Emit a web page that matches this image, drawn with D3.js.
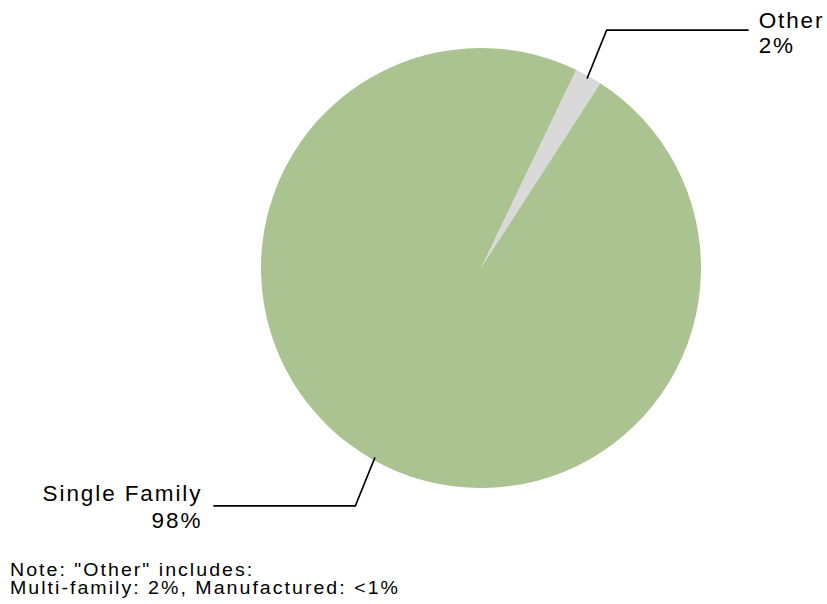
<!DOCTYPE html>
<html>
<head>
<meta charset="utf-8">
<script src="https://cdn.jsdelivr.net/npm/d3@7"></script>
<style>
  html, body { margin: 0; padding: 0; background: #ffffff; }
  svg { display: block; }
  text { font-family: "Liberation Sans", Arial, sans-serif; fill: #000; }
</style>
</head>
<body>
<svg id="chart" width="827" height="604"></svg>
<script>
// Housing type shares (percent)
const categories = ["Other", "Single Family"];
const values = [2, 98];
const valueLabels = ["2%", "98%"];
const colors = ["#d9d9d9", "#abc291"];
const noteLines = ["Note: \"Other\" includes:", "Multi-family: 2%, Manufactured: <1%"];

const width = 827, height = 604;
const cx = 481, cy = 268, radius = 220;
const deg = Math.PI / 180;

const svg = d3.select("#chart");
const g = svg.append("g").attr("transform", `translate(${cx},${cy})`);

// The small slice is centred at about 29 degrees clockwise from 12 o'clock
const otherMid = 29.25 * deg;
const otherSpan = values[0] / d3.sum(values) * 2 * Math.PI;
const start = otherMid - otherSpan / 2;

const pie = d3.pie().sort(null).value(d => d.value)
  .startAngle(start).endAngle(start + 2 * Math.PI);

const data = categories.map((c, i) => ({ name: c, value: values[i], label: valueLabels[i], color: colors[i] }));
const arcs = pie(data);

const arc = d3.arc().innerRadius(0).outerRadius(radius);

g.selectAll("path.slice")
  .data(arcs)
  .join("path")
  .attr("class", "slice")
  .attr("d", arc)
  .attr("fill", d => d.data.color);

// Point at distance r from the centre, angle a clockwise from 12 o'clock
const polar = (r, a) => [r * Math.sin(a), -r * Math.cos(a)];

// Leader lines and labels
const hLen = 142;
arcs.forEach(a => {
  const mid = (a.startAngle + a.endAngle) / 2;
  const right = Math.sin(mid) > 0;
  const p0 = polar(217, mid);
  const p1 = polar(269, mid - 1.4 * deg);
  const p2 = [p1[0] + (right ? hLen : -hLen), p1[1]];
  g.append("polyline")
    .attr("points", [p0, p1, p2].map(p => p.join(",")).join(" "))
    .attr("fill", "none")
    .attr("stroke", "#000")
    .attr("stroke-width", 1.6);

  const tx = right ? p2[0] + 10 : p2[0] - 11;
  const anchor = right ? "start" : "end";
  const t = g.append("text")
    .attr("text-anchor", anchor)
    .attr("font-size", 22.5)
    .attr("letter-spacing", 1.9);
  const y0 = right ? p2[1] - 2 : p2[1] - 5;
  const dy = right ? 25 : 27;
  t.append("tspan").attr("x", tx).attr("y", y0).text(a.data.name);
  t.append("tspan").attr("x", tx).attr("y", y0 + dy).text(a.data.label);
});

// Footnote, set in a slightly widened face
svg.append("g")
  .attr("transform", "translate(10,0) scale(1.12,1)")
  .selectAll("text")
  .data(noteLines)
  .join("text")
  .attr("font-size", 17.5)
  .attr("letter-spacing", 1.8)
  .attr("x", 0)
  .attr("y", (d, i) => 576 + i * 18.5)
  .text(d => d);
</script>
</body>
</html>
